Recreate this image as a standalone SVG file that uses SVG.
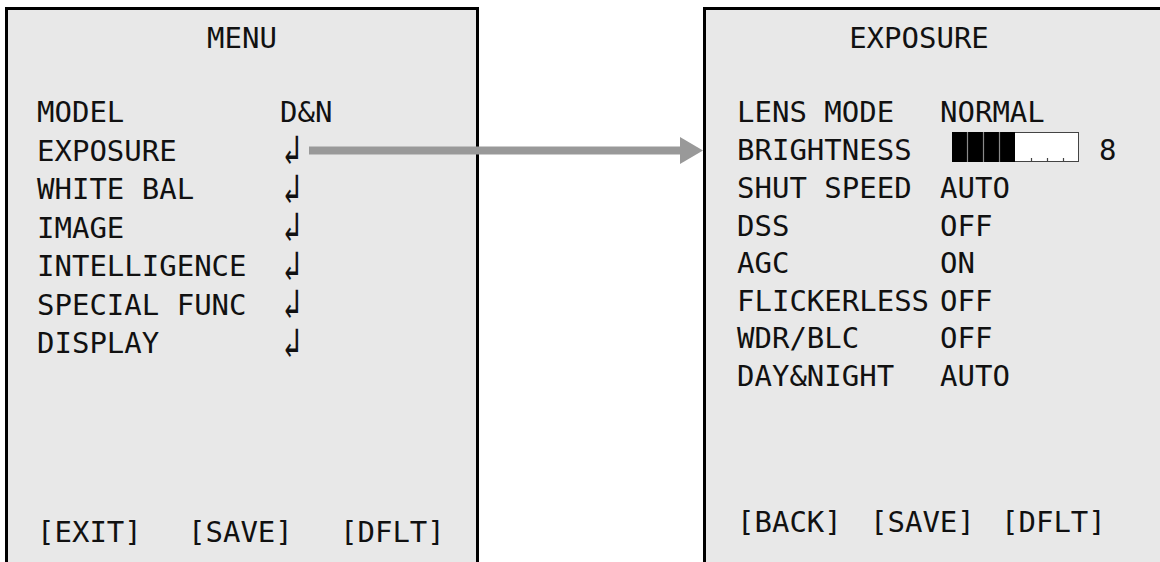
<svg xmlns="http://www.w3.org/2000/svg" width="1160" height="562" viewBox="0 0 1160 562">
<style>
.panel{fill:#e8e8e8;stroke:#000;stroke-width:3}
text{font-family:"DejaVu Sans Mono","Liberation Mono",monospace;font-size:29px;fill:#111}
.c{text-anchor:middle}
.ret{font-family:"DejaVu Sans","DejaVu Sans Mono",sans-serif;font-size:28px;font-weight:200}
.div{stroke:#8a8a8a;stroke-width:1.2}
.tick{stroke:#444;stroke-width:1.2}
</style>
<rect width="1160" height="562" fill="#fff"/>
<g id="menu">
<rect class="panel" x="6.5" y="8.5" width="471" height="600"/>
<text class="c" x="242" y="48">MENU</text>
<text x="37" y="122">MODEL</text><text x="280" y="122">D&amp;N</text>
<text x="37" y="160.5">EXPOSURE</text><text class="ret" transform="translate(283,164) scale(1.05,1.5)">↲</text>
<text x="37" y="199">WHITE BAL</text><text class="ret" transform="translate(283,202.5) scale(1.05,1.5)">↲</text>
<text x="37" y="237.5">IMAGE</text><text class="ret" transform="translate(283,241) scale(1.05,1.5)">↲</text>
<text x="37" y="276">INTELLIGENCE</text><text class="ret" transform="translate(283,279.5) scale(1.05,1.5)">↲</text>
<text x="37" y="314.5">SPECIAL FUNC</text><text class="ret" transform="translate(283,318) scale(1.05,1.5)">↲</text>
<text x="37" y="353">DISPLAY</text><text class="ret" transform="translate(283,356.5) scale(1.05,1.5)">↲</text>
<text x="37" y="542">[EXIT]</text>
<text x="188" y="542">[SAVE]</text>
<text x="340" y="542">[DFLT]</text>
</g>
<g id="exposure">
<rect class="panel" x="704.5" y="8.5" width="520" height="600"/>
<text class="c" x="919" y="48">EXPOSURE</text>
<text x="737" y="122">LENS MODE</text><text x="940" y="122">NORMAL</text>
<text x="737" y="160">BRIGHTNESS</text>
<g id="bar">
<rect x="952.5" y="132.5" width="126" height="29" fill="#fff" stroke="#444" stroke-width="1"/>
<rect x="952" y="132" width="63" height="30" fill="#000"/>
<line class="div" x1="967.5" y1="132" x2="967.5" y2="162"/>
<line class="div" x1="983.5" y1="132" x2="983.5" y2="162"/>
<line class="div" x1="999.5" y1="132" x2="999.5" y2="162"/>
<line class="tick" x1="1031.5" y1="158" x2="1031.5" y2="162"/>
<line class="tick" x1="1047.5" y1="158" x2="1047.5" y2="162"/>
<line class="tick" x1="1063.5" y1="158" x2="1063.5" y2="162"/>
</g>
<text x="1099" y="160">8</text>
<text x="737" y="198">SHUT SPEED</text><text x="940" y="198">AUTO</text>
<text x="737" y="235.5">DSS</text><text x="940" y="235.5">OFF</text>
<text x="737" y="273">AGC</text><text x="940" y="273">ON</text>
<text x="737" y="310.5">FLICKERLESS</text><text x="940" y="310.5">OFF</text>
<text x="737" y="348">WDR/BLC</text><text x="940" y="348">OFF</text>
<text x="737" y="385.5">DAY&amp;NIGHT</text><text x="940" y="385.5">AUTO</text>
<text x="737" y="532">[BACK]</text>
<text x="870" y="532">[SAVE]</text>
<text x="1001" y="532">[DFLT]</text>
</g>
<g id="connectors">
<line x1="309" y1="150.5" x2="682" y2="150.5" stroke="#999" stroke-width="8"/>
<polygon points="680,137 703,150.5 680,164" fill="#999"/>
</g>
</svg>
